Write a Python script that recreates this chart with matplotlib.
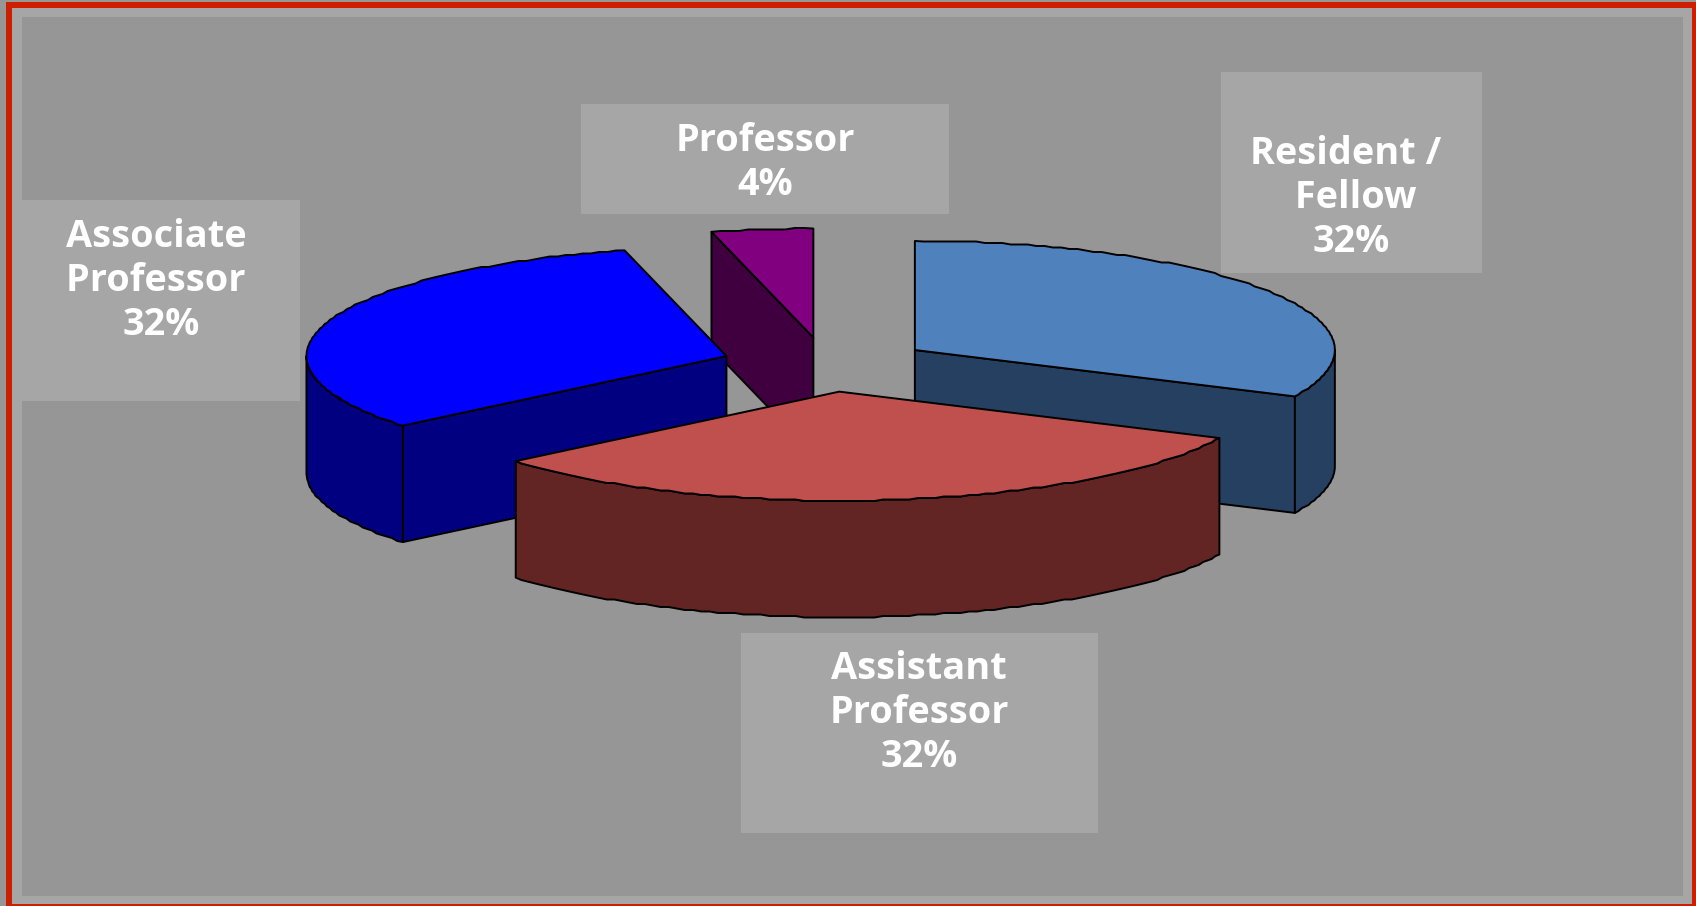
import numpy as np
import matplotlib
matplotlib.use("Agg")
import matplotlib.pyplot as plt
from matplotlib.patches import Rectangle, Polygon

label_lines = ["Resident / \n Fellow", "Assistant\nProfessor", "Associate \nProfessor ", "Professor"]
values = [32.0, 32.0, 32.1, 3.9]
top_colors = ["#4F81BD", "#C0504D", "#0000FF", "#800080"]
side_colors = ["#254061", "#632523", "#000080", "#400040"]
draw_order = [3, 0, 2, 1]
label_boxes = [(1221, 72, 261, 201), (741, 633, 357, 200), (22, 200, 278, 201), (581, 104, 368, 110)]
label_centres = [(1351, 198), (919, 713), (161, 281), (765, 163)]

W, H = 1696, 906
CX, CY, A, B, DEPTH, EXPLODE = 826.2, 364.6, 420, 109, 116.5, 0.25
BG, PANEL, RED = "#969696", "#A6A6A6", "#CC1F00"
STEP = 1.5

fig = plt.figure(figsize=(W / 100, H / 100), dpi=100, facecolor=BG)
ax = fig.add_axes([0, 0, 1, 1])
ax.set_xlim(0, W)
ax.set_ylim(H, 0)
ax.axis("off")

ax.add_patch(Rectangle((6, 2), W - 6, H - 2, fc=RED, ec="none", zorder=0))
ax.add_patch(Rectangle((12, 8), 1692 - 12, 904 - 8, fc=PANEL, ec="none", zorder=0.1))
ax.add_patch(Rectangle((22, 17), 1683 - 22, 896 - 17, fc=BG, ec="none", zorder=0.2))


def arc(cx, cy, t0, t1, n=None):
    n = n or max(2, int(abs(t1 - t0) / 1.2) + 1)
    t = np.radians(np.linspace(t0, t1, n))
    x = cx + A * np.cos(t)
    y = cy - B * np.sin(t)
    inner = np.arange(len(x)) % (len(x) - 1) != 0
    y = np.where(inner, np.round(y / STEP) * STEP, y)
    return np.column_stack([x, y])


edges = 90 - np.concatenate([[0], np.cumsum(values)]) * 3.6
z = 1
style = dict(ec="black", lw=1.4, joinstyle="round")
for i in draw_order:
    t0, t1 = edges[i], edges[i + 1]
    mid = np.radians((t0 + t1) / 2)
    cx = CX + EXPLODE * A * np.cos(mid)
    cy = CY - EXPLODE * B * np.sin(mid)
    apex = np.array([cx, cy])
    down = np.array([0, DEPTH])
    for ang, visible in ((t0, np.cos(np.radians(t0)) < -1e-6), (t1, np.cos(np.radians(t1)) > 1e-6)):
        if visible:
            p = arc(cx, cy, ang, ang, n=2)[0]
            ax.add_patch(Polygon([apex, p, p + down, apex + down], fc=side_colors[i], zorder=z, **style))
            z += 1
    for shift in (0, -360):
        lo, hi = max(t1 + shift, -180), min(t0 + shift, 0)
        if hi > lo:
            rim = arc(cx, cy, hi, lo)
            ax.add_patch(Polygon(np.vstack([rim, (rim + down)[::-1]]), fc=side_colors[i], zorder=z, **style))
            z += 1
    ax.add_patch(Polygon(np.vstack([apex, arc(cx, cy, t0, t1)]), fc=top_colors[i], zorder=z, **style))
    z += 1

for i, (box, ctr) in enumerate(zip(label_boxes, label_centres)):
    ax.add_patch(Rectangle(box[:2], box[2], box[3], fc=PANEL, ec="none", zorder=50))
    ax.text(ctr[0], ctr[1], f"{label_lines[i]}\n{values[i]:.0f}%", color="white", fontsize=27.3,
            fontweight="bold", family="Open Sans", ha="center", va="center",
            linespacing=1.21, zorder=51)

fig.savefig("out.png", dpi=100, facecolor=BG)
